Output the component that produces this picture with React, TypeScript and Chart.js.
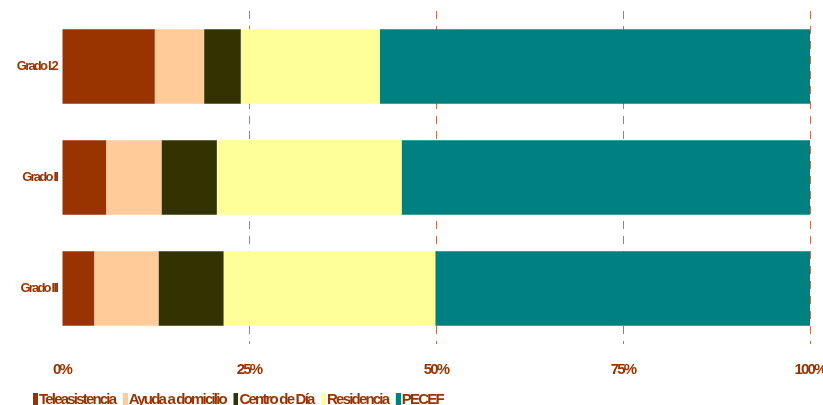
import React, { useEffect, useRef } from 'react';
import { Chart, registerables } from 'chart.js';

Chart.register(...registerables);

const categories = ['Grado I.2', 'Grado II', 'Grado III'];
const seriesNames = ['Teleasistencia', 'Ayuda a domicilio', 'Centro de Día', 'Residencia', 'PECEF'];
const teleasistencia = [12.4, 5.9, 4.3];
const ayudaDomicilio = [6.6, 7.4, 8.6];
const centroDeDia = [4.9, 7.4, 8.7];
const residencia = [18.6, 24.7, 28.3];
const pecef = [57.5, 54.6, 50.1];
const xTickValues = [0, 25, 50, 75, 100];
const xTickLabels = ['0%', '25%', '50%', '75%', '100%'];
const seriesColors = ['#993300', '#FFCC99', '#333300', '#FFFF99', '#008080'];

const FONT = "'Liberation Sans', Arial, sans-serif";
const TEXT = '#993300';
const SPACING = '-1.8px';

function legendSwatch(color: string) {
  const c = document.createElement('canvas');
  c.width = 18;
  c.height = 14;
  const g = c.getContext('2d')!;
  g.fillStyle = color;
  g.fillRect(13, 0, 5, 14);
  return c;
}

const condensePlugin = {
  id: 'condense',
  beforeInit(chart: any) {
    chart.ctx.letterSpacing = SPACING;
  },
  beforeUpdate(chart: any) {
    chart.ctx.letterSpacing = SPACING;
  },
  beforeDraw(chart: any) {
    chart.ctx.letterSpacing = SPACING;
  },
  afterLayout(chart: any) {
    if (chart.legend) chart.legend.left = 25.5;
  },
};

export default function App() {
  const ref = useRef<HTMLCanvasElement | null>(null);
  useEffect(() => {
    if (!ref.current) return;
    const values = [teleasistencia, ayudaDomicilio, centroDeDia, residencia, pecef];
    const swatches = seriesColors.map(legendSwatch);
    const chart = new Chart(ref.current, {
      type: 'bar',
      plugins: [condensePlugin],
      data: {
        labels: categories,
        datasets: seriesNames.map((name, i) => ({
          label: name,
          data: values[i],
          backgroundColor: seriesColors[i],
          borderWidth: 0,
          categoryPercentage: 1,
          barPercentage: 0.67,
        })),
      },
      options: {
        indexAxis: 'y',
        responsive: false,
        animation: false,
        layout: { padding: { left: 0, right: 13, top: 11, bottom: -12 } },
        plugins: {
          legend: {
            position: 'bottom',
            align: 'start',
            labels: {
              usePointStyle: true,
              boxWidth: 5,
              boxHeight: 14,
              padding: 1,
              color: TEXT,
              font: { family: FONT, size: 15, weight: 'bold' },
              generateLabels: (ch: any) => {
                const items = Chart.defaults.plugins.legend.labels.generateLabels(ch);
                return items.map((it: any, i: number) => ({ ...it, pointStyle: swatches[i], rotation: 0 }));
              },
            },
          },
          tooltip: { enabled: false },
        },
        scales: {
          x: {
            stacked: true,
            min: 0,
            max: 100,
            afterBuildTicks: (scale: any) => {
              scale.ticks = xTickValues.map((v) => ({ value: v }));
            },
            afterFit: (scale: any) => {
              scale.height = 47;
              scale.paddingLeft = 0;
              scale.paddingRight = 0;
            },
            ticks: {
              padding: 17,
              color: TEXT,
              font: { family: FONT, size: 15, weight: 'bold' },
              callback: (v: any) => xTickLabels[xTickValues.indexOf(Number(v))] ?? '',
              maxRotation: 0,
            },
            grid: {
              drawTicks: false,
              color: (ctx: any) => (ctx.tick && ctx.tick.value === 0 ? 'rgba(0,0,0,0)' : 'rgba(178,90,50,0.85)'),
              lineWidth: 1,
            },
            border: { display: false, dash: [8, 7] },
          },
          y: {
            stacked: true,
            afterFit: (scale: any) => {
              scale.width = 62;
            },
            ticks: {
              padding: -3,
              color: TEXT,
              font: { family: FONT, size: 13, weight: 'bold' },
            },
            grid: { display: false },
            border: { display: false },
          },
        },
      },
    });
    return () => chart.destroy();
  }, []);
  return (
    <div style={{ position: 'absolute', left: 0, top: 0, width: 823, height: 405, background: '#fff' }}>
      <canvas ref={ref} width={823} height={405} style={{ display: 'block' }} />
    </div>
  );
}
